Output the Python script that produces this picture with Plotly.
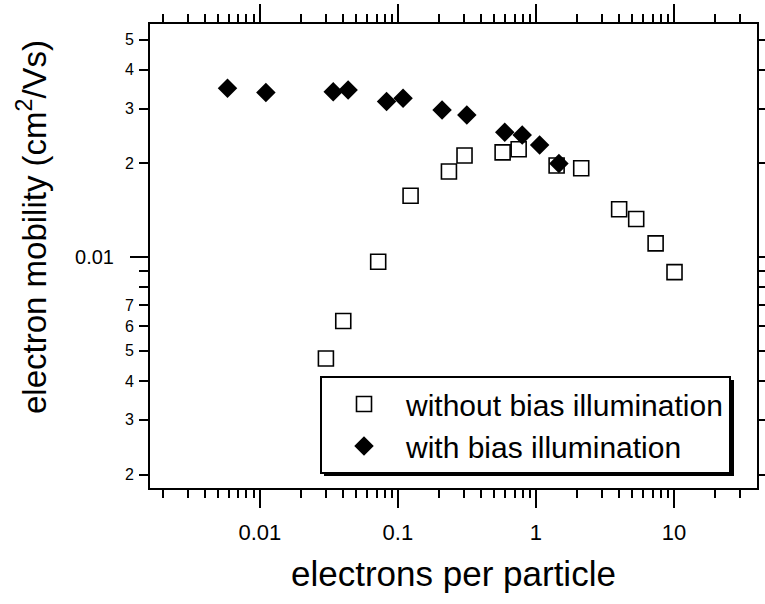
import plotly.graph_objects as go

# ---- data ----
x_without = [0.0301, 0.0402, 0.0720, 0.1236, 0.2344, 0.304, 0.574, 0.750, 1.413, 2.13, 4.01, 5.33, 7.37, 10.1]
y_without = [0.00472, 0.00623, 0.00966, 0.01575, 0.01884, 0.0212, 0.0217, 0.0222, 0.0197, 0.0193, 0.01424, 0.01325, 0.01107, 0.00895]

x_with = [0.00583, 0.01105, 0.0340, 0.0436, 0.0828, 0.109, 0.209, 0.316, 0.595, 0.796, 1.064, 1.468]
y_with = [0.0349, 0.0338, 0.0340, 0.0344, 0.0316, 0.0324, 0.0297, 0.0286, 0.0252, 0.0247, 0.0229, 0.0200]

x_major = [0.01, 0.1, 1, 10]
x_major_text = ["0.01", "0.1", "1", "10"]
x_minor = [m * d for d in (0.001, 0.01, 0.1, 1) for m in range(2, 10)] + [20, 30]

y_major = [0.01]
y_major_text = ["0.01"]
y_labeled = [0.002, 0.003, 0.004, 0.005, 0.006, 0.007, 0.02, 0.03, 0.04, 0.05]
y_labeled_text = ["2", "3", "4", "5", "6", "7", "2", "3", "4", "5"]
y_unlabeled = [0.008, 0.009]

x_range = [-2.796, 1.602]
y_range = [-2.742, -1.251]

FONT = "Liberation Sans, Arial, sans-serif"

# plot-area geometry in pixels (for paper-coordinate placement of decorations)
L, R, T, B = 150, 757, 24, 488
PW, PH = R - L, B - T

def px(xp):
    return (xp - L) / PW

def py(yp):
    return (B - yp) / PH

leg_left, leg_top = 320, 376
leg_w, leg_h = 410, 96

fig = go.Figure()
fig.add_trace(go.Scatter(
    x=x_without, y=y_without, mode="markers", name="without bias illumination",
    marker=dict(symbol="square-open", size=15, color="black", line=dict(width=1.6, color="#222")),
))
fig.add_trace(go.Scatter(
    x=x_with, y=y_with, mode="markers", name="with bias illumination",
    marker=dict(symbol="diamond", size=15, color="black", line=dict(width=0)),
))
# invisible helper trace for overlay axis
fig.add_trace(go.Scatter(x=[], y=[], yaxis="y2", showlegend=False, hoverinfo="skip"))

fig.update_layout(
    width=765, height=604,
    margin=dict(l=L, r=765 - R, t=T, b=604 - B, autoexpand=False),
    paper_bgcolor="white", plot_bgcolor="white",
    font=dict(family=FONT, color="black"),
    showlegend=True,
    legend=dict(
        x=px(leg_left), y=py(leg_top), xanchor="left", yanchor="top",
        bgcolor="white", bordercolor="black", borderwidth=2,
        font=dict(size=30, family=FONT, color="black"),
        itemwidth=74, tracegroupgap=0,
    ),
    xaxis=dict(
        type="log", range=x_range, automargin=False,
        tickmode="array", tickvals=x_major, ticktext=x_major_text,
        ticks="outside", ticklen=18, tickwidth=2, tickcolor="black",
        tickfont=dict(size=22, family=FONT), ticklabelstandoff=6,
        minor=dict(tickmode="array", tickvals=x_minor, ticks="outside", ticklen=8, tickwidth=2, tickcolor="black", showgrid=False),
        showline=True, linewidth=2, linecolor="black", mirror="ticks",
        showgrid=False, zeroline=False,
    ),
    yaxis=dict(
        type="log", range=y_range, automargin=False,
        tickmode="array", tickvals=y_major, ticktext=y_major_text,
        ticks="outside", ticklen=18, tickwidth=2, tickcolor="black",
        tickfont=dict(size=20, family=FONT), ticklabelstandoff=12,
        showline=True, linewidth=2, linecolor="black", mirror="ticks",
        showgrid=False, zeroline=False,
    ),
    yaxis2=dict(
        type="log", range=y_range, overlaying="y", anchor="x", side="left", automargin=False,
        tickmode="array", tickvals=y_labeled, ticktext=y_labeled_text,
        ticks="outside", ticklen=10, tickwidth=2, tickcolor="black",
        tickfont=dict(size=16, family=FONT), ticklabelstandoff=2,
        minor=dict(tickmode="array", tickvals=y_unlabeled, ticks="outside", ticklen=10, tickwidth=2, tickcolor="black", showgrid=False),
        showline=False, mirror="ticks",
        showgrid=False, zeroline=False,
    ),
    annotations=[
        dict(text="electrons per particle", xref="paper", yref="paper",
             x=0.5, y=py(573), xanchor="center", yanchor="middle",
             showarrow=False, font=dict(size=35, family=FONT, color="black")),
        dict(text="electron mobility (cm<sup>2</sup>/Vs)", xref="paper", yref="paper",
             x=px(32), y=py(227), xanchor="center", yanchor="middle",
             textangle=-90, showarrow=False, font=dict(size=33, family=FONT, color="black")),
    ],
    shapes=[
        dict(type="rect", xref="paper", yref="paper", layer="above",
             x0=px(leg_left + 4), x1=px(leg_left + leg_w + 4),
             y0=py(leg_top + leg_h + 4), y1=py(leg_top + 4),
             fillcolor="black", line=dict(width=0)),
    ],
)

fig.write_html("out.html")
